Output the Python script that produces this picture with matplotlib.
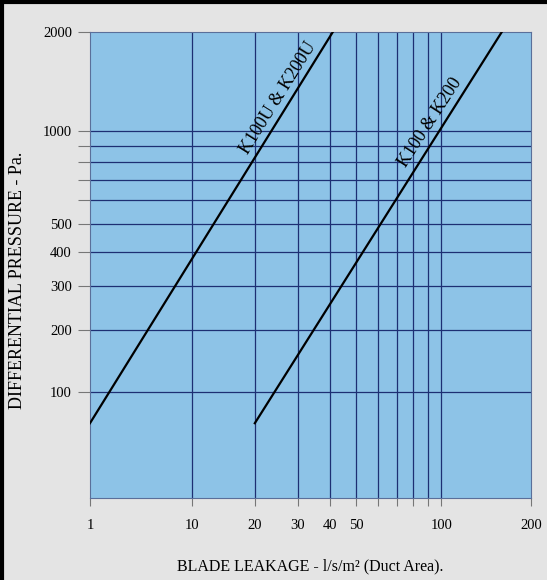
import numpy as np
import matplotlib
matplotlib.use('Agg')
import matplotlib.pyplot as plt
from matplotlib.lines import Line2D

# Chart values
k100u_leakage = [1, 41]
k100u_pressure = [63, 2000]
k100_leakage = [20, 160]
k100_pressure = [63, 2000]

x_grid = [10, 20, 30, 40, 50, 60, 70, 80, 90, 100]
x_labels = [1, 10, 20, 30, 40, 50, 100, 200]
y_grid = [100, 200, 300, 400, 500, 600, 700, 800, 900, 1000]
y_labels = [100, 200, 300, 400, 500, 1000, 2000]

# the paper is not a true log grid: position ~ log(value + offset)
XOFF = 7.0
YOFF = 100.0

def fx(v):
    return np.log10(np.maximum(v + XOFF, 1e-9))

def ix(u):
    return 10 ** u - XOFF

def fy(v):
    return np.log10(np.maximum(v + YOFF, 1e-9))

def iy(u):
    return 10 ** u - YOFF

plt.rcParams['font.family'] = ['Liberation Serif', 'DejaVu Serif']

bg = '#e4e4e4'
paper = '#8dc3e7'
gridc = '#1d2f73'

fig = plt.figure(figsize=(5.47, 5.80), dpi=100, facecolor=bg)
ax = fig.add_axes([0.1645, 0.1414, 0.806, 0.8034])
ax.set_facecolor(paper)
ax.set_xscale('function', functions=(fx, ix))
ax.set_yscale('function', functions=(fy, iy))
ax.set_xlim(1, 200)
ax.set_ylim(0, 2000)

for v in x_grid:
    ax.axvline(v, color=gridc, lw=0.9, zorder=1)
for v in y_grid:
    ax.axhline(v, color=gridc, lw=0.9, zorder=1)

ax.plot(k100u_leakage, k100u_pressure, color='black', lw=1.6, zorder=3)
ax.plot(k100_leakage, k100_pressure, color='black', lw=1.6, zorder=3)

ax.text(0.428, 0.858, 'K100U & K200U', transform=ax.transAxes, rotation=58,
        ha='center', va='center', rotation_mode='anchor', fontsize=13)
ax.text(0.771, 0.806, 'K100 & K200', transform=ax.transAxes, rotation=57,
        ha='center', va='center', rotation_mode='anchor', fontsize=13)

for s in ax.spines.values():
    s.set_color('#5a6f9a')
    s.set_linewidth(0.8)

ax.set_xticks(x_labels)
ax.set_xticklabels([str(v) for v in x_labels])
ax.set_xticks(x_grid, minor=True)
ax.set_yticks(y_labels)
ax.set_yticklabels([str(v) for v in y_labels])
ax.set_yticks([600, 700, 800, 900], minor=True)
ax.tick_params(axis='both', which='both', direction='out', color='#777777',
               width=0.8, labelsize=10.5)
ax.tick_params(axis='y', which='both', length=9, pad=4)
ax.tick_params(axis='x', which='major', length=6, pad=9)
ax.tick_params(axis='x', which='minor', length=6, labelbottom=False)

ax.set_xlabel('BLADE LEAKAGE - l/s/m² (Duct Area).', fontsize=11.5)
ax.set_ylabel('DIFFERENTIAL PRESSURE - Pa.', fontsize=13)
ax.xaxis.set_label_coords(0.5, -0.13)
ax.yaxis.set_label_coords(-0.146, 0.468)

# black scan border on top and left
fig.add_artist(Line2D([0.004, 0.004], [0, 1], transform=fig.transFigure,
                      color='black', lw=3))
fig.add_artist(Line2D([0, 1], [0.996, 0.996], transform=fig.transFigure,
                      color='black', lw=3))

fig.savefig('out.png', dpi=100, facecolor=bg)
